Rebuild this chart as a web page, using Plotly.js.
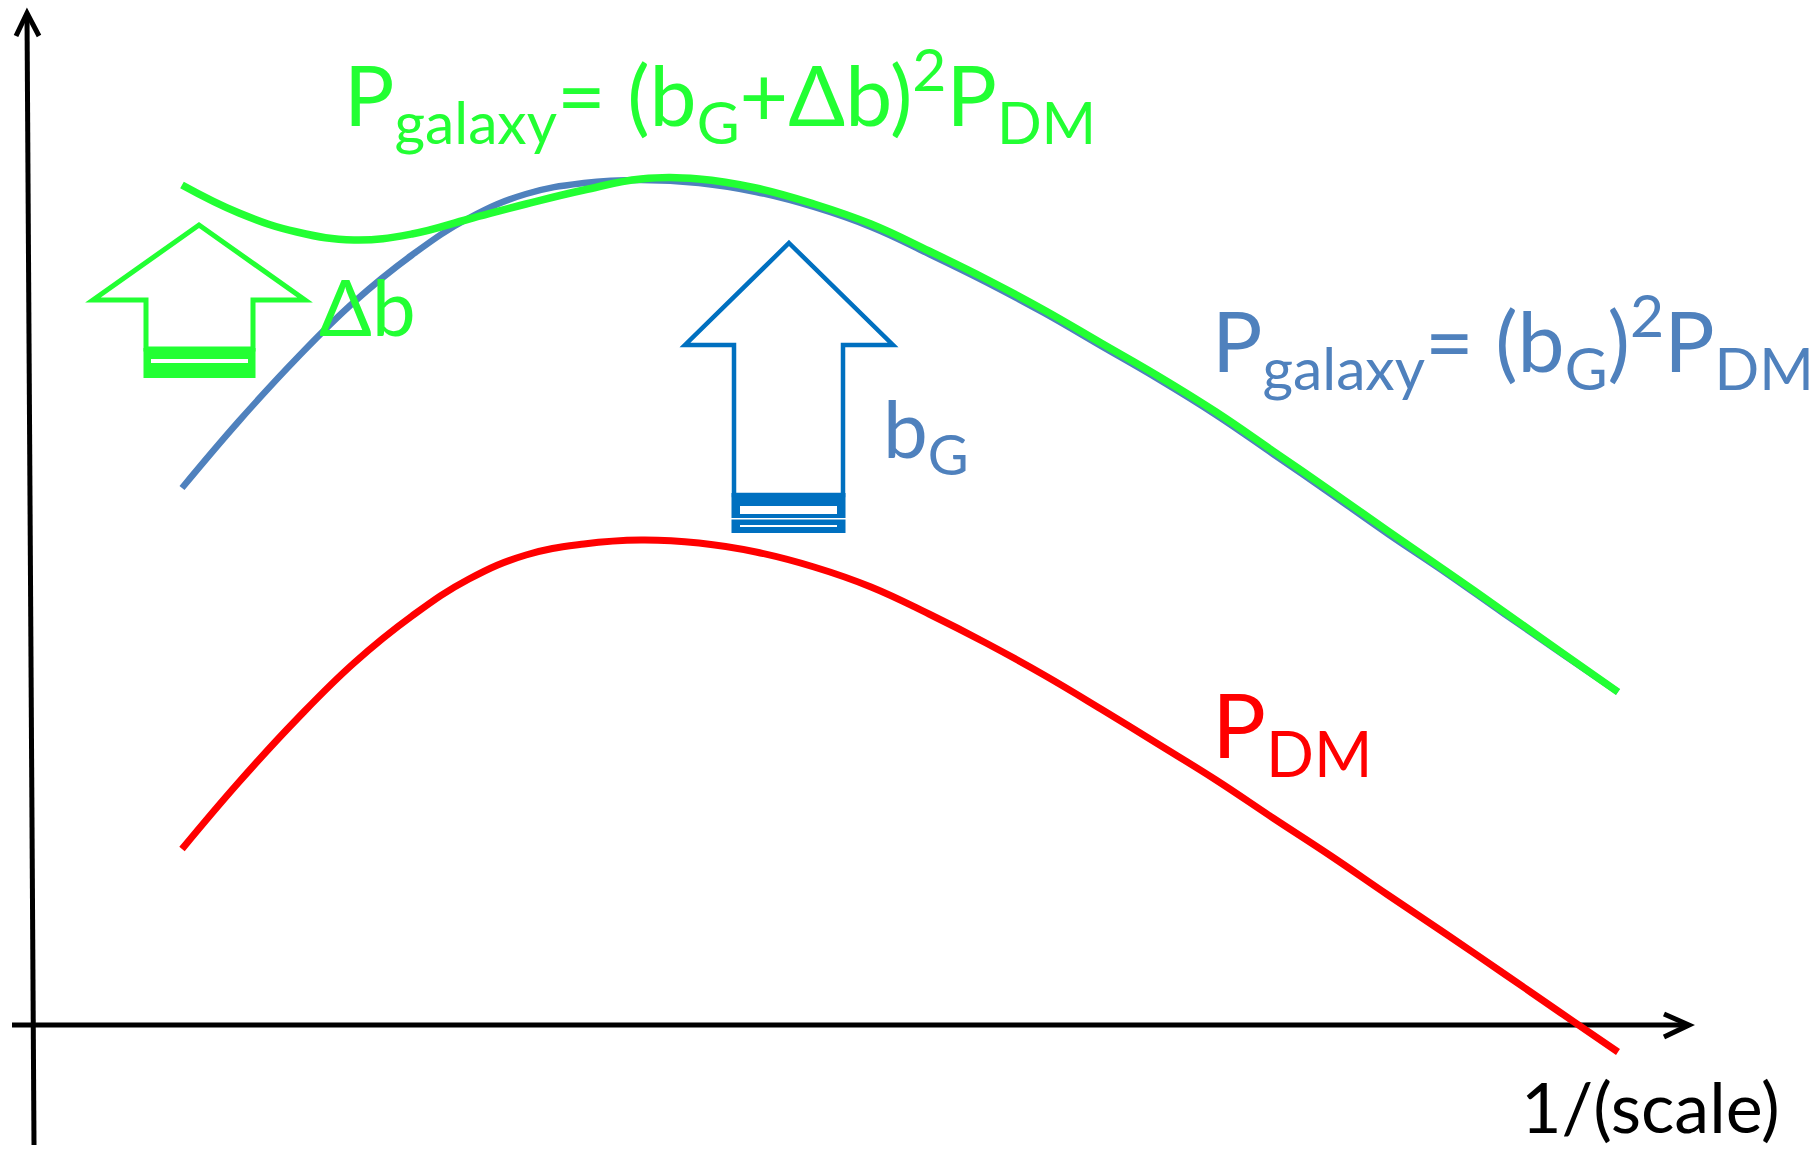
<!DOCTYPE html>
<html>
<head>
<meta charset="utf-8">
<script src="https://cdn.plot.ly/plotly-3.0.1.min.js"></script>
<style>html,body{margin:0;padding:0;background:#fff;}#chart{width:1816px;height:1153px;}</style>
</head>
<body>
<div id="chart"></div>
<script>
// ---- data (schematic units: x = 1/(scale), y = power) ----
const scalePoints = [149,206,264,321,379,436,493,551,608,666,723,781,838,896,953,1011,1068,1125,1183,1240,1298,1355,1413,1470,1528,1585];
const pDM        = [176,243,306,362,409,446,470,481,485,482,473,458,438,411,382,350,316,281,245,207,169,130,91,52,12,-27];
const pGalaxyB   = [537,604,667,723,770,807,831,842,845,842,833,818,798,771,743,712,679,646,610,571,531,491,452,412,372,333];
const pGalaxyBdB = [840,812,793,785,791,806,821,835,846,846,837,821,801,774,746,715,682,649,613,574,534,494,454,414,373,333];

const textGreen = 'P<sub>galaxy</sub>= (b<sub>G</sub>+Δb)<sup>2</sup>P<sub>DM</sub>';
const textBlue  = 'P<sub>galaxy</sub>= (b<sub>G</sub>)<sup>2</sup>P<sub>DM</sub>';
const textRed   = 'P<sub>DM</sub>';
const textDb    = 'Δb';
const textBG    = 'b<sub>G</sub>';
const textXAxis = '1/(scale)';

const GREEN = '#22ff33', BLUE = '#4f81bd', ARROWBLUE = '#0070c0', RED = '#ff0000';
const FONT = 'Lato, "Open Sans", sans-serif';

const traces = [
  {x: scalePoints, y: pDM, mode: 'lines', line: {color: RED, width: 7, shape: 'spline', smoothing: 1.2}, hoverinfo: 'skip'},
  {x: scalePoints, y: pGalaxyB, mode: 'lines', line: {color: BLUE, width: 6.5, shape: 'spline', smoothing: 1.2}, hoverinfo: 'skip'},
  {x: scalePoints, y: pGalaxyBdB, mode: 'lines', line: {color: GREEN, width: 7.5, shape: 'spline', smoothing: 1.2}, hoverinfo: 'skip'}
];

function P(pts, close) {
  return 'M' + pts.map(p => p[0] + ',' + p[1]).join(' L') + (close ? ' Z' : '');
}
const blk = {color: '#000', width: 5};
const shapes = [
  // axes
  {type: 'line', xref: 'x', yref: 'y', x0: -6, y0: 1010, x1: 1, y1: -120, line: blk, layer: 'below'},
  {type: 'path', xref: 'x', yref: 'y', path: P([[-17,989],[-6,1012],[6,989]]), line: blk, layer: 'below'},
  {type: 'line', xref: 'x', yref: 'y', x0: -21, y0: 0, x1: 1654, y1: 0, line: blk, layer: 'below'},
  {type: 'path', xref: 'x', yref: 'y', path: P([[1631,11],[1656,0],[1631,-12]]), line: blk, layer: 'below'},
  // green block arrow (delta b)
  {type: 'path', xref: 'x', yref: 'y', path: P([[166,800],[272,725],[220,725],[220,676],[113,676],[113,725],[60,725]], true),
   line: {color: GREEN, width: 5}, fillcolor: 'rgba(0,0,0,0)'},
  {type: 'rect', xref: 'x', yref: 'y', x0: 110.5, x1: 222.5, y0: 647, y1: 677, line: {width: 0}, fillcolor: GREEN},
  {type: 'rect', xref: 'x', yref: 'y', x0: 118, x1: 215, y0: 662, y1: 666, line: {width: 0}, fillcolor: '#fff'},
  // blue block arrow (b_G)
  {type: 'path', xref: 'x', yref: 'y', path: P([[756,782],[860,680],[810,680],[810,530],[701,530],[701,680],[652,680]], true),
   line: {color: ARROWBLUE, width: 4.5}, fillcolor: 'rgba(0,0,0,0)'},
  {type: 'rect', xref: 'x', yref: 'y', x0: 698.5, x1: 812.5, y0: 492, y1: 532, line: {width: 0}, fillcolor: ARROWBLUE},
  {type: 'rect', xref: 'x', yref: 'y', x0: 707, x1: 804, y0: 511, y1: 519, line: {width: 0}, fillcolor: '#fff'},
  {type: 'rect', xref: 'x', yref: 'y', x0: 698, x1: 813, y0: 505.5, y1: 507, line: {width: 0}, fillcolor: '#fff'},
  {type: 'rect', xref: 'x', yref: 'y', x0: 707, x1: 804, y0: 498, y1: 500, line: {width: 0}, fillcolor: '#fff'}
];

function ann(text, x, y, size, color) {
  return {text: text, x: x, y: y, xref: 'x', yref: 'y', xanchor: 'left', yanchor: 'top', showarrow: false,
          font: {family: FONT, size: size, color: color}, borderpad: 1};
}
const annotations = [
  ann(textGreen, 309, 994, 84, GREEN),
  ann(textBlue, 1177, 748, 84, BLUE),
  ann(textRed, 1177, 358, 90, RED),
  ann(textDb, 284, 768, 78, GREEN),
  ann(textBG, 848, 648, 80, BLUE),
  ann(textXAxis, 1486, -37, 70, '#000')
];

const layout = {
  width: 1816, height: 1153,
  margin: {l: 0, r: 0, t: 0, b: 0, pad: 0},
  xaxis: {range: [-33, 1783], visible: false},
  yaxis: {range: [-128, 1025], visible: false},
  showlegend: false,
  paper_bgcolor: '#fff', plot_bgcolor: '#fff',
  shapes: shapes, annotations: annotations
};
Plotly.newPlot('chart', traces, layout, {displayModeBar: false, staticPlot: true});
</script>
</body>
</html>
